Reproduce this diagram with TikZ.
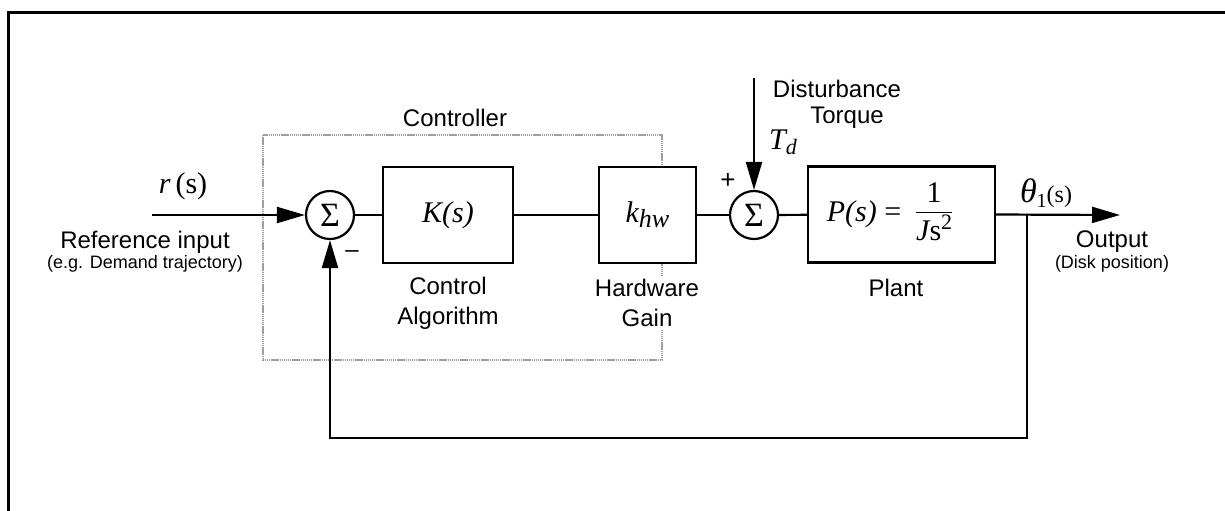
\documentclass[tikz,border=0pt]{standalone}
\usepackage{fontspec}
\setmainfont{Liberation Sans}
\newfontfamily\tms{Liberation Serif}
\usetikzlibrary{arrows.meta}
\newcommand{\lab}{\fontsize{12}{15}\selectfont}
\newcommand{\sml}{\fontsize{9}{11}\selectfont}
\newcommand{\mth}{\tms\fontsize{15}{18}\selectfont}
\begin{document}
\begin{tikzpicture}[x=0.5pt,y=-0.5pt,
  line width=1.1pt,
  blk/.style={draw, fill=white, minimum height=48pt, inner sep=0pt},
  sumnode/.style={draw, circle, fill=white, minimum size=24pt, inner sep=0pt, font=\tms\fontsize{17}{18}\selectfont},
  arr/.style={-{Triangle[length=14pt,width=8pt]}},
  txt/.style={font=\lab, align=center, inner sep=1pt},
  stxt/.style={font=\sml, align=center, inner sep=1pt},
  ctrlbox/.style={draw=gray!75, line width=1.3pt, dash pattern=on 0.7pt off 0.35pt}]
\useasboundingbox (0,0) rectangle (1225,510);
% outer frame
\draw[line width=1.5pt] (8,512) -- (8,12) -- (1227,12);
% controller boundary
\draw[ctrlbox] (263,135) rectangle (662,360);
\node[txt] (ctrl) at (455,118) {Controller};
% blocks
\node[sumnode] (s1) at (330,215) {Σ};
\node[blk, minimum width=65pt, font=\mth] (K) at (448,215) {\itshape K(s)};
\node[blk, minimum width=48.5pt, font=\mth] (hw) at (647.5,215) {{\itshape k\raisebox{-0.35ex}{\fontsize{13}{13}\selectfont hw}}};
\node[sumnode] (s2) at (754,215) {Σ};
\node[blk, minimum width=93.5pt, font=\mth] (P) at (901.5,214.5) {\hspace*{-12pt}{\itshape P(s)} =\ \ \begin{tabular}{@{}c@{}}1\\[-1pt]\hline\rule{0pt}{14pt}{\itshape J}s\raisebox{0.8ex}{\fontsize{11}{11}\selectfont 2}\end{tabular}};
% coordinates
\coordinate (in) at (152,215);
\coordinate (dtop) at (754,78);
\coordinate (br) at (1027,215);
\coordinate (out) at (1120,215);
\coordinate (fb) at (1027,438);
% connectors
\draw[arr] (in) -- (s1.west);
\draw (s1) -- (K);
\draw (K) -- (hw);
\draw (hw) -- (s2);
\draw (s2) -- (P);
\draw[arr] (dtop) -- (s2.north);
\draw[arr] (P.east) -- (out);
\draw[arr] (br) -- (fb) -| (s1.south);
% labels
\node[font=\mth] (rs) at (183,186) {{\itshape r}\,(s)};
\node[txt] (refin) at (145,242) {Reference input};
\node[stxt] (refsub) at (145,264) {(e.g. Demand trajectory)};
\node[txt] (minus) at (352,254) {\textendash};
\node[txt, font=\fontsize{13}{15}\selectfont] (plus) at (728,181) {+};
\node[txt, fill=white, font=\fontsize{12}{15}\selectfont] (calg) at (448,303) {Control\\Algorithm};
\node[txt, fill=white, font=\fontsize{12}{15}\selectfont] (hwg) at (647,303) {Hardware\\Gain};
\node[txt] (plant) at (896,288) {Plant};
\node[txt] (dist) at (837,89) {Disturbance};
\node[txt] (torq) at (847,118) {Torque};
\node[font=\mth] (td) at (783,142) {{\itshape T\raisebox{-0.35ex}{\fontsize{11}{11}\selectfont d}}};
\node[font=\mth] (th) at (1046,193) {{\fontsize{17}{18}\selectfont\itshape θ}\raisebox{-0.4ex}{\fontsize{10}{10}\selectfont 1}{\fontsize{12}{12}\selectfont (s)}};
\node[txt] (outl) at (1112,242) {Output};
\node[stxt] (outsub) at (1112,264) {(Disk position)};
\end{tikzpicture}
\end{document}
